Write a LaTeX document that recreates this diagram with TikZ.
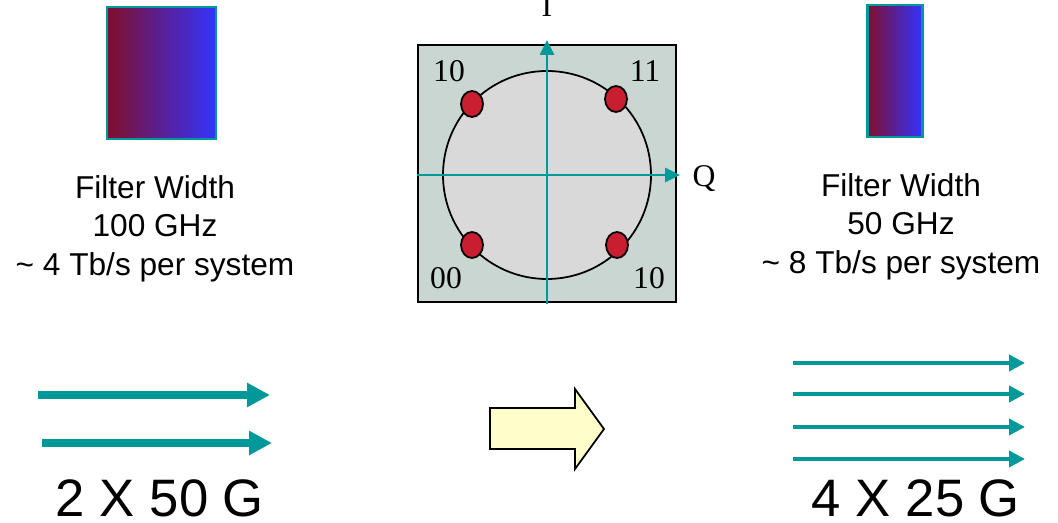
\documentclass[tikz,border=0pt]{standalone}
\usepackage{fontspec}
\setmainfont{Liberation Sans}
\newfontfamily\serifnum{Liberation Serif}
\usepackage{tikz}
\usetikzlibrary{arrows.meta, positioning, calc}
\usepackage{xcolor}
\definecolor{sigteal}{RGB}{0,153,153}
\definecolor{boxgrey}{RGB}{201,214,210}
\definecolor{discgrey}{RGB}{217,217,217}
\definecolor{dotred}{RGB}{200,30,48}
\definecolor{filterred}{RGB}{128,14,42}
\definecolor{filterblue}{RGB}{51,51,255}
\definecolor{paleyellow}{RGB}{255,255,204}

\begin{document}
\begin{tikzpicture}[x=0.02cm, y=-0.02cm,
  filtertext/.style={font=\fontsize{18}{22}\selectfont, align=center, inner sep=0pt},
  ratetext/.style={font=\fontsize{30}{31}\selectfont, inner sep=0pt},
  iq/.style={font=\serifnum\fontsize{18}{18}\selectfont, inner sep=0pt},
  filter/.style={draw=sigteal, line width=1.7pt, left color=filterred, right color=filterblue},
  widearrow/.style={sigteal, line width=4.5pt, -{Triangle[length=13pt, width=13pt]}},
  slimarrow/.style={sigteal, line width=2.3pt, -{Triangle[length=9pt, width=9pt]}},
  iqaxis/.style={sigteal, line width=1.6pt, -{Triangle[length=8.5pt, width=8pt]}}]
  \useasboundingbox (0,0) rectangle (1058,523);
  % Filters
  \draw[filter] (107,7) rectangle (216,139);
  \draw[filter] (867,5) rectangle (922,137);
  \node[filtertext, anchor=north] (wide) at (155,175)
    {Filter Width\\100 GHz\\\textasciitilde{} 4 Tb/s per system};
  \node[filtertext, anchor=north] (narrow) at (901,173)
    {Filter Width\\50 GHz\\\textasciitilde{} 8 Tb/s per system};
  % Constellation
  \filldraw[fill=boxgrey, line width=1pt] (418,45) rectangle (676,302);
  \filldraw[fill=discgrey, line width=1pt] (547,175) circle (104);
  \coordinate (ilow) at (547,304);
  \coordinate (itop) at (547,40);
  \coordinate (qlow) at (417,175);
  \coordinate (qtop) at (680,175);
  \draw[iqaxis] (ilow) -- (itop);
  \draw[iqaxis] (qlow) -- (qtop);
  \foreach \x/\y in {472/104, 616/99, 472/245, 617/245} {
    \filldraw[fill=dotred, line width=1pt] (\x,\y) ellipse (11 and 13);
  }
  \node[iq] (sym10a) at (449,71) {10};
  \node[iq] (sym11) at (645,71) {11};
  \node[iq] (sym00) at (446,278) {00};
  \node[iq] (sym10b) at (649,278) {10};
  \node[iq, anchor=base] (qlab) at (704,187) {Q};
  \node[iq, anchor=base] (ilab) at (547,17) {I};
  % Block arrow
  \filldraw[fill=paleyellow, line width=1pt] (490,408) -- (575,408) -- (575,389)
    -- (604,429) -- (575,469) -- (575,449) -- (490,449) -- cycle;
  % Channels
  \coordinate (a1) at (38,395);  \coordinate (b1) at (270,395);
  \coordinate (a2) at (42,443);  \coordinate (b2) at (272,443);
  \draw[widearrow] (a1) -- (b1);
  \draw[widearrow] (a2) -- (b2);
  \foreach \y in {363,394,427,459} {
    \draw[slimarrow] (793,\y) -- (1025,\y);
  }
  \node[ratetext, anchor=base] (two) at (160,516) {2 X 50 G};
  \node[ratetext, anchor=base] (four) at (916,516) {4 X 25 G};
\end{tikzpicture}
\end{document}
